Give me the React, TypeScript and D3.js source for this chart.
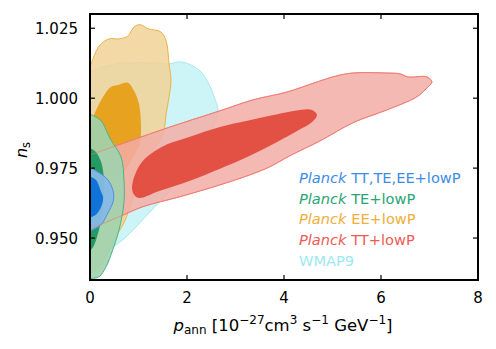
import React from "react";
import * as d3 from "d3";

const W = 496;
const H = 349;
const margin = { left: 90, right: 18, top: 14, bottom: 69 };

const xTicks = [0, 2, 4, 6, 8];
const yTicks = [0.95, 0.975, 1.0, 1.025];
const yTickLabels = ["0.950", "0.975", "1.000", "1.025"];

type Pt = [number, number];

// WMAP9
const wmap95: Pt[] = [
  [0, 1.0094], [0.33, 1.0115], [0.74, 1.0126], [1.3, 1.0126], [1.61, 1.0122], [1.84, 1.013],
  [2.04, 1.0122], [2.29, 1.0094], [2.45, 1.0051], [2.56, 1.0005], [2.64, 0.9955], [2.56, 0.9908],
  [2.45, 0.9862], [2.35, 0.984], [2.12, 0.979], [1.98, 0.9769], [1.77, 0.9708], [1.61, 0.9662],
  [1.42, 0.9626], [1.22, 0.959], [0.95, 0.954], [0.68, 0.9494], [0.39, 0.9458], [0.12, 0.9422], [0, 0.9408],
];
const wmap68: Pt[] = [
  [0, 0.999], [0.41, 0.9994], [0.82, 0.998], [1.13, 0.994], [1.24, 0.9876], [1.15, 0.9808],
  [0.93, 0.9726], [0.58, 0.9637], [0.21, 0.9558], [0, 0.9523],
];

// Planck EE+lowP
const ee95: Pt[] = [
  [0, 1.0115], [0.02, 1.0122], [0.19, 1.0187], [0.39, 1.0212], [0.6, 1.0212], [0.78, 1.0222],
  [0.91, 1.0255], [1.03, 1.0263], [1.2, 1.0248], [1.46, 1.0237], [1.57, 1.0205], [1.63, 1.0122],
  [1.67, 1.0062], [1.63, 1.0005], [1.57, 0.9944], [1.51, 0.9872], [1.4, 0.984], [1.2, 0.979],
  [1.01, 0.9733], [0.89, 0.9648], [0.7, 0.9555], [0.49, 0.9494], [0.29, 0.9422], [0.06, 0.938], [0, 0.9373],
];
const ee68: Pt[] = [
  [0, 0.9894], [0.06, 0.993], [0.27, 1.0005], [0.43, 1.004], [0.58, 1.0047], [0.78, 1.0055],
  [0.91, 1.0026], [1.01, 0.998], [1.05, 0.9908], [1.03, 0.9837], [0.95, 0.9808], [0.78, 0.9755],
  [0.62, 0.9726], [0.31, 0.9723], [0, 0.9737],
];

// Planck TT+lowP
const tt95: Pt[] = [
  [0, 0.9797], [0.82, 0.9847], [1.65, 0.9897], [2.68, 0.9955], [3.36, 0.9994], [4.06, 1.0022],
  [4.68, 1.0058], [5.09, 1.008], [5.42, 1.009], [6.12, 1.009], [6.39, 1.0087], [6.56, 1.0076],
  [6.95, 1.0076], [7.05, 1.0058], [6.95, 1.0037], [6.74, 1.0005], [6.12, 0.9958], [5.42, 0.9912],
  [4.74, 0.9847], [4.12, 0.9794], [3.71, 0.9755], [3.3, 0.9726], [2.68, 0.969], [1.86, 0.9648],
  [1.09, 0.9612], [0.6, 0.9576], [0.06, 0.9537], [0, 0.9533],
];
const tt68: Pt[] = [
  [0.87, 0.9673], [1.03, 0.9762], [1.44, 0.9822], [2.06, 0.9862], [2.68, 0.9897], [3.24, 0.9919],
  [3.71, 0.9937], [4.33, 0.9958], [4.58, 0.9958], [4.68, 0.994], [4.58, 0.9915], [4.27, 0.9883],
  [3.71, 0.983], [3.24, 0.979], [2.68, 0.9748], [2.06, 0.9705], [1.44, 0.9669], [0.99, 0.9644],
];

// Planck TE+lowP
const te95: Pt[] = [
  [0, 0.9944], [0.04, 0.994], [0.23, 0.9919], [0.37, 0.9872], [0.43, 0.9851], [0.64, 0.979],
  [0.7, 0.9708], [0.7, 0.9626], [0.6, 0.953], [0.47, 0.9458], [0.33, 0.9397], [0.19, 0.9362], [0, 0.9355],
];
const te68: Pt[] = [
  [0, 0.9822], [0.12, 0.9808], [0.23, 0.9772], [0.29, 0.9708], [0.29, 0.9637], [0.23, 0.9565],
  [0.14, 0.9501], [0.06, 0.9466], [0, 0.9455],
];

// Planck TT,TE,EE+lowP
const all95: Pt[] = [
  [0, 0.9751], [0.19, 0.9733], [0.37, 0.9708], [0.47, 0.9673], [0.49, 0.9648], [0.47, 0.9626],
  [0.37, 0.959], [0.23, 0.9548], [0.06, 0.953], [0, 0.9526],
];
const all68: Pt[] = [
  [0, 0.9719], [0.12, 0.9708], [0.23, 0.9665], [0.27, 0.9644], [0.23, 0.9612], [0.12, 0.9583], [0, 0.9573],
];

const legendNames = ["TT,TE,EE+lowP", "TE+lowP", "EE+lowP", "TT+lowP", "WMAP9"];
const legendColors = ["#3d8de6", "#2aa574", "#f0ae3c", "#ee5a55", "#9de8f2"];

export default function App() {
  const x = d3.scaleLinear().domain([0, 8]).range([margin.left, W - margin.right]);
  const y = d3.scaleLinear().domain([0.935, 1.0301]).range([H - margin.bottom, margin.top]);

  // contours cut by the p_ann = 0 edge: open curve closed along the axis
  const edgeLine = d3.line<Pt>().x(d => x(d[0])).y(d => y(d[1])).curve(d3.curveCatmullRom.alpha(0.5));
  const closedLine = d3.line<Pt>().x(d => x(d[0])).y(d => y(d[1])).curve(d3.curveCatmullRomClosed.alpha(0.5));
  const edge = (pts: Pt[]) => edgeLine(pts) + "Z";

  const layers = [
    { d: edge(wmap95), fill: "#c8f3f6", stroke: "#a6e9f0", op: 0.9 },
    { d: edge(wmap68), fill: "#b9eef3", stroke: "none", op: 0.3 },
    { d: edge(ee95), fill: "#f1d296", stroke: "#ecb24a", op: 0.85 },
    { d: edge(ee68), fill: "#e69a08", stroke: "none", op: 0.85 },
    { d: edge(tt95), fill: "#f3ada7", stroke: "#ef8078", op: 0.85 },
    { d: closedLine(tt68) as string, fill: "#df3e30", stroke: "none", op: 0.85 },
    { d: edge(te95), fill: "#a0d3ae", stroke: "#4ab488", op: 0.9 },
    { d: edge(te68), fill: "#16955c", stroke: "none", op: 0.9 },
    { d: edge(all95), fill: "#86b9e6", stroke: "#4f8fe0", op: 0.95 },
    { d: edge(all68), fill: "#0a6fd6", stroke: "none", op: 0.95 },
  ];

  const x0 = margin.left, x1 = W - margin.right, y0 = margin.top, y1 = H - margin.bottom;
  const font = "DejaVu Sans, sans-serif";

  return (
    <svg width={W} height={H} style={{ position: "absolute", left: 0, top: 0 }} fontFamily={font}>
      <defs>
        <clipPath id="plot">
          <rect x={x0} y={y0} width={x1 - x0} height={y1 - y0} />
        </clipPath>
      </defs>
      <rect width={W} height={H} fill="#fff" />
      <g clipPath="url(#plot)">
        {layers.map((l, i) => (
          <path key={i} d={l.d} fill={l.fill} fillOpacity={l.op} stroke={l.stroke} strokeWidth={1} />
        ))}
        <path d={edge(tt95)} fill="none" stroke="#ef7a72" strokeOpacity={0.6} strokeWidth={1} />
      </g>

      {/* ticks, inward on all sides */}
      {xTicks.slice(1, -1).map(t => (
        <g key={"xt" + t} stroke="#000" strokeWidth={1.2}>
          <line x1={x(t)} x2={x(t)} y1={y1} y2={y1 - 5} />
          <line x1={x(t)} x2={x(t)} y1={y0} y2={y0 + 5} />
        </g>
      ))}
      {yTicks.map(t => (
        <g key={"yt" + t} stroke="#000" strokeWidth={1.2}>
          <line x1={x0} x2={x0 + 5} y1={y(t)} y2={y(t)} />
          <line x1={x1} x2={x1 - 5} y1={y(t)} y2={y(t)} />
        </g>
      ))}
      <rect x={x0} y={y0} width={x1 - x0} height={y1 - y0} fill="none" stroke="#000" strokeWidth={2} />

      {xTicks.map(t => (
        <text key={"xl" + t} x={x(t)} y={y1 + 23} textAnchor="middle" fontSize={15}>{t}</text>
      ))}
      {yTicks.map((t, i) => (
        <text key={"yl" + t} x={x0 - 12} y={y(t) + 5.5} textAnchor="end" fontSize={15}>{yTickLabels[i]}</text>
      ))}

      <text x={283} y={331} textAnchor="middle" fontSize={16.5}>
        <tspan fontStyle="italic">p</tspan>
        <tspan fontSize={12} dy={3}>ann</tspan>
        <tspan dy={-3}>{" [10"}</tspan>
        <tspan fontSize={12} dy={-7}>−27</tspan>
        <tspan dy={7}>cm</tspan>
        <tspan fontSize={12} dy={-7}>3</tspan>
        <tspan dy={7}>{" s"}</tspan>
        <tspan fontSize={12} dy={-7}>−1</tspan>
        <tspan dy={7}>{" GeV"}</tspan>
        <tspan fontSize={12} dy={-7}>−1</tspan>
        <tspan dy={7}>]</tspan>
      </text>
      <text transform="translate(27,150) rotate(-90)" textAnchor="middle" fontSize={16}>
        <tspan fontStyle="italic">n</tspan>
        <tspan fontSize={11.5} dy={3}>s</tspan>
      </text>

      {legendNames.map((n, i) => (
        <text key={n} x={299} y={183 + i * 20.7} fontSize={14.6} fill={legendColors[i]}>
          {n === "WMAP9" ? n : (<><tspan fontStyle="italic">Planck</tspan>{" " + n}</>)}
        </text>
      ))}
    </svg>
  );
}
